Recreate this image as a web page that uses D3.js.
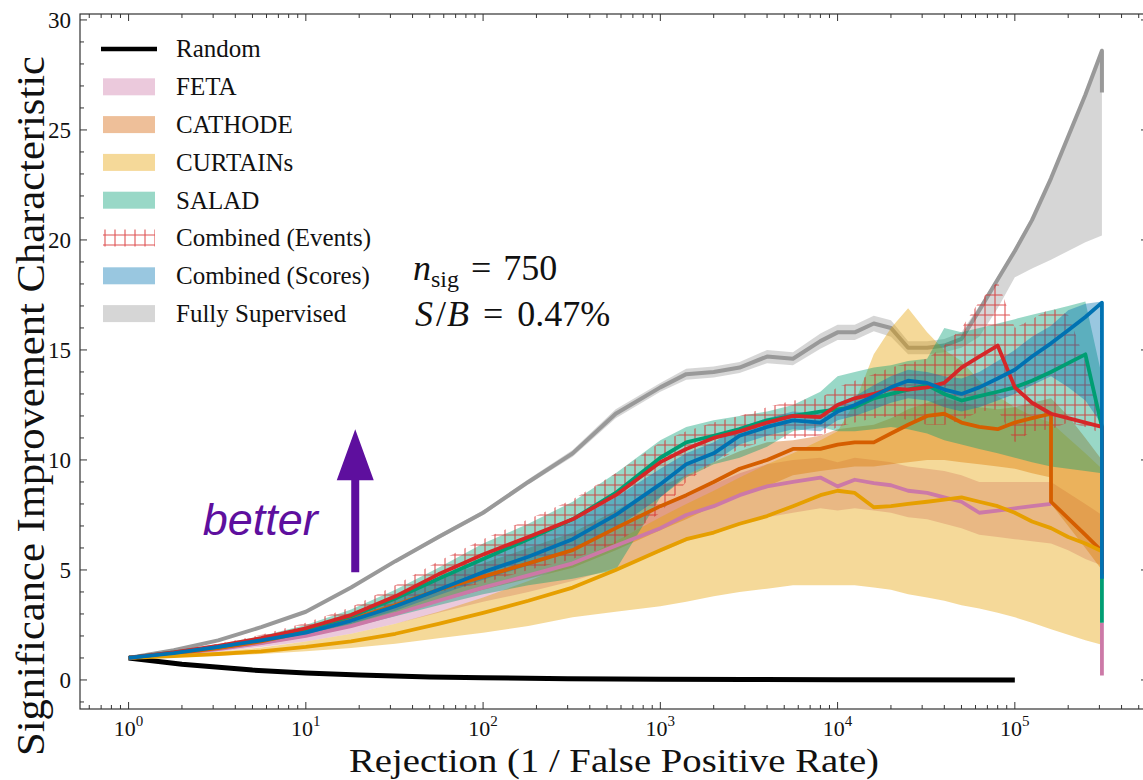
<!DOCTYPE html>
<html>
<head>
<meta charset="utf-8">
<script src="https://cdn.jsdelivr.net/npm/d3@7"></script>
<style>
  html, body { margin: 0; padding: 0; background: #fff; }
  svg { display: block; }
</style>
</head>
<body>
<svg id="chart" width="1143" height="780"></svg>
<script>
// Rejection grid (1 / false positive rate). The last point of a scan repeats
// its rejection value, so a curve can end in a vertical segment.
const rejection = [1, 1.8, 3.2, 5.6, 10, 18, 32, 56, 100, 180, 320, 560, 1000, 1400, 2000, 2800, 4000, 5600, 8000, 10000, 12500, 16000, 20000, 25000, 32000, 40000, 50000, 63000, 80000, 100000, 125000, 160000, 160000, 200000, 250000, 310000, 310000];

// Random classifier
const randomRejection = [1, 2, 5, 10, 20, 50, 100, 300, 1000, 3000, 10000, 100000];
const randomSic = [1.0, 0.71, 0.45, 0.32, 0.22, 0.14, 0.10, 0.058, 0.032, 0.018, 0.01, 0.003];

// FETA (null: no median point at that rejection)
const fetaMid = [1.0, 1.18, 1.4, 1.68, 2.0, 2.45, 3.0, 3.6, 4.2, 4.75, 5.3, 6.1, 6.9, 7.5, 7.9, 8.4, 8.8, 9.0, 9.2, 8.8, 9.1, 8.95, 8.85, 8.6, 8.5, 8.3, 8.1, 7.6, 7.7, 7.8, 7.9, 8.0, 8.0, null, null, 2.6, 0.2];
const fetaLo = [1.0, 1.12, 1.28, 1.5, 1.75, 2.1, 2.55, 3.05, 3.55, 4.0, 4.5, 5.1, 5.8, 6.3, 6.7, 7.1, 7.4, 7.6, 7.8, 7.7, 7.8, 7.7, 7.6, 7.4, 7.3, 7.1, 6.9, 6.6, 6.5, 6.4, 6.3, 6.2, 6.2, 5.9, 5.5, 5.2, 5.2];
const fetaHi = [1.0, 1.24, 1.52, 1.85, 2.2, 2.7, 3.3, 4.0, 4.7, 5.3, 5.9, 6.9, 7.8, 8.4, 8.9, 9.4, 9.8, 10.0, 10.1, 9.9, 10.1, 10.0, 9.9, 9.7, 9.6, 9.5, 9.3, 9.0, 9.0, 9.0, 9.0, 9.0, 9.0, 8.5, 8.0, 7.5, 7.5];

// CATHODE
const cathodeMid = [1.0, 1.2, 1.45, 1.75, 2.2, 2.75, 3.4, 4.1, 4.7, 5.3, 5.9, 6.9, 7.9, 8.4, 9.0, 9.6, 10.0, 10.5, 10.5, 10.7, 10.8, 10.8, 11.2, 11.6, 12.0, 12.1, 11.7, 11.5, 11.4, 11.7, 11.9, 12.1, 8.1, 7.35, 6.6, 5.85, 5.0];
const cathodeLo = [1.0, 1.15, 1.35, 1.6, 1.95, 2.4, 2.95, 3.55, 4.1, 4.6, 5.1, 5.9, 6.8, 7.3, 7.9, 8.4, 8.8, 9.3, 9.5, 9.6, 9.7, 9.7, 9.8, 9.9, 10.0, 10.0, 9.9, 9.8, 9.7, 9.6, 9.4, 9.2, 8.0, 7.0, 6.0, 5.0, 5.0];
const cathodeHi = [1.0, 1.25, 1.55, 1.9, 2.4, 3.05, 3.8, 4.6, 5.3, 6.0, 6.7, 7.7, 8.8, 9.3, 9.9, 10.4, 10.8, 10.9, 11.1, 11.4, 11.5, 11.6, 11.9, 12.3, 12.6, 12.8, 12.6, 12.4, 12.3, 12.4, 12.6, 12.8, 12.8, 12.0, 11.0, 10.0, 10.0];

// CURTAINs
const curtainsMid = [1.0, 1.08, 1.18, 1.3, 1.5, 1.75, 2.1, 2.55, 3.05, 3.6, 4.2, 5.0, 5.9, 6.4, 6.7, 7.1, 7.45, 7.9, 8.4, 8.6, 8.5, 7.85, 7.9, 8.0, 8.1, 8.2, 8.3, 8.1, 7.9, 7.6, 7.2, 6.9, 6.9, 6.5, 6.2, 5.85, 5.0];
const curtainsLo = [1.0, 1.04, 1.1, 1.18, 1.3, 1.45, 1.65, 1.9, 2.15, 2.45, 2.85, 3.1, 3.35, 3.55, 3.8, 4.0, 4.15, 4.3, 4.3, 4.3, 4.3, 4.2, 4.1, 3.9, 3.75, 3.6, 3.4, 3.25, 3.05, 2.85, 2.6, 2.3, 2.3, 2.05, 1.8, 1.6, 1.6];
const curtainsHi = [1.0, 1.12, 1.28, 1.48, 1.75, 2.1, 2.55, 3.1, 3.75, 4.5, 5.3, 6.3, 7.4, 8.0, 8.6, 9.2, 9.8, 10.3, 10.9, 11.3, 12.6, 14.8, 16.0, 16.9, 15.8, 15.0, 14.5, 13.6, 12.9, 12.4, 12.0, 11.7, 11.7, 11.0, 10.3, 9.6, 9.6];

// SALAD
const saladMid = [1.0, 1.25, 1.5, 1.85, 2.3, 2.9, 3.7, 4.6, 5.5, 6.4, 7.3, 8.5, 10.1, 10.8, 11.1, 11.4, 11.8, 12.0, 12.2, 12.3, 12.4, 12.8, 13.0, 13.2, 13.4, 13.0, 12.7, 12.9, 13.1, 13.3, 13.6, 14.0, 14.0, 14.4, 14.8, 11.5, 2.6];
const saladLo = [1.0, 1.18, 1.4, 1.65, 1.95, 2.4, 2.9, 3.4, 3.9, 4.3, 4.6, 5.0, 8.3, 9.2, 9.8, 10.1, 10.6, 11.3, 11.5, 11.3, 11.3, 11.4, 11.5, 11.4, 11.2, 10.9, 10.7, 10.5, 10.3, 10.1, 9.9, 9.7, 9.7, 9.6, 9.5, 9.4, 9.4];
const saladHi = [1.0, 1.3, 1.62, 2.0, 2.5, 3.2, 4.1, 5.1, 6.2, 7.1, 8.1, 9.4, 10.9, 11.5, 11.8, 12.0, 12.2, 12.5, 13.1, 13.8, 14.0, 14.2, 14.3, 14.5, 14.6, 16.0, 15.8, 16.0, 16.2, 16.4, 16.6, 16.8, 16.8, 17.0, 17.2, 13.8, 13.8];

// Combined (Events)
const eventsMid = [1.0, 1.25, 1.55, 1.9, 2.35, 2.95, 3.8, 4.8, 5.7, 6.5, 7.3, 8.4, 9.9, 10.5, 11.0, 11.3, 11.7, 12.0, 11.95, 12.5, 12.8, 13.0, 13.25, 13.2, 13.3, 13.5, 14.2, 14.7, 15.2, 13.3, 12.6, 12.1, 12.1, 11.9, 11.7, 11.5, 4.8];
const eventsLo = [1.0, 1.2, 1.45, 1.75, 2.1, 2.6, 3.3, 4.0, 4.4, 5.0, 5.5, 6.2, 7.6, 9.0, 9.9, 10.5, 10.9, 11.0, 11.1, 11.5, 11.7, 11.9, 12.0, 11.8, 11.6, 11.6, 11.8, 12.2, 12.3, 10.8, 11.3, 11.4, 11.4, 11.7, 11.5, 11.2, 11.2];
const eventsHi = [1.0, 1.3, 1.65, 2.05, 2.6, 3.3, 4.3, 5.4, 6.4, 7.3, 8.2, 9.4, 10.8, 11.3, 11.7, 12.0, 12.4, 12.7, 12.8, 13.3, 13.6, 13.9, 14.2, 14.4, 14.6, 15.2, 16.0, 17.2, 18.1, 16.0, 16.4, 16.9, 16.9, 16.6, 14.5, 12.0, 12.0];

// Combined (Scores)
const scoresMid = [1.0, 1.22, 1.5, 1.8, 2.15, 2.7, 3.35, 4.1, 4.9, 5.6, 6.4, 7.5, 8.9, 9.8, 10.3, 11.1, 11.5, 11.8, 11.7, 12.2, 12.5, 12.9, 13.3, 13.6, 13.5, 13.2, 13.0, 13.3, 13.7, 14.1, 14.7, 15.3, 15.3, 15.9, 16.5, 17.15, 4.6];
const scoresLo = [1.0, 1.19, 1.45, 1.73, 2.05, 2.55, 3.15, 3.85, 4.55, 5.2, 5.9, 6.9, 8.3, 9.3, 9.9, 10.7, 11.1, 11.4, 11.3, 11.8, 12.0, 12.3, 12.6, 12.8, 12.7, 12.4, 12.2, 12.4, 12.7, 13.0, 13.4, 13.8, 13.8, 13.3, 12.7, 11.6, 11.6];
const scoresHi = [1.0, 1.26, 1.58, 1.92, 2.33, 2.95, 3.7, 4.55, 5.45, 6.3, 7.2, 8.3, 9.6, 10.3, 10.8, 11.5, 11.9, 12.2, 12.1, 12.6, 12.9, 13.4, 13.8, 14.1, 14.0, 13.8, 13.7, 14.0, 14.5, 15.0, 15.6, 16.1, 16.1, 16.8, 17.1, 17.2, 17.2];

// Fully supervised
const supervisedMid = [1.0, 1.35, 1.8, 2.4, 3.1, 4.2, 5.4, 6.5, 7.6, 9.0, 10.3, 12.1, 13.3, 13.9, 14.0, 14.2, 14.7, 14.6, 15.4, 15.8, 15.8, 16.2, 16.0, 15.1, 15.1, 15.2, 15.5, 16.8, 18.2, 19.5, 20.9, 22.8, 22.8, 24.7, 26.6, 28.6, 26.7];
const supervisedLo = [1.0, 1.33, 1.77, 2.36, 3.05, 4.13, 5.32, 6.4, 7.5, 8.88, 10.15, 11.9, 13.1, 13.65, 13.75, 13.95, 14.4, 14.3, 15.05, 15.45, 15.45, 15.85, 15.6, 14.8, 14.8, 14.9, 15.1, 15.6, 16.9, 18.3, 18.7, 19.1, 19.1, 19.5, 19.9, 20.2, 20.2];
const supervisedHi = [1.0, 1.37, 1.83, 2.44, 3.15, 4.27, 5.48, 6.6, 7.7, 9.12, 10.45, 12.3, 13.5, 14.15, 14.25, 14.45, 15.0, 14.9, 15.75, 16.15, 16.15, 16.55, 16.35, 15.4, 15.4, 15.5, 15.8, 17.0, 18.35, 19.65, 21.05, 22.95, 22.95, 24.85, 26.75, 28.7, 28.7];

// Axis ticks
const xMajorTicks = [1, 10, 100, 1000, 10000, 100000];
const xTickExponents = ["0", "1", "2", "3", "4", "5"];
const yMajorTicks = [0, 5, 10, 15, 20, 25, 30];

const supervised = { name: "Fully Supervised", color: "#999999", mid: supervisedMid, lo: supervisedLo, hi: supervisedHi };
const methods = [
  { name: "FETA", color: "#CC79A7", mid: fetaMid, lo: fetaLo, hi: fetaHi },
  { name: "CATHODE", color: "#D55E00", mid: cathodeMid, lo: cathodeLo, hi: cathodeHi },
  { name: "CURTAINs", color: "#E69F00", mid: curtainsMid, lo: curtainsLo, hi: curtainsHi },
  { name: "SALAD", color: "#009E73", mid: saladMid, lo: saladLo, hi: saladHi },
  { name: "Combined (Events)", color: "#D62728", mid: eventsMid, lo: eventsLo, hi: eventsHi, hatch: true },
  { name: "Combined (Scores)", color: "#0072B2", mid: scoresMid, lo: scoresLo, hi: scoresHi }
];

const serif = "'Liberation Serif', 'Times New Roman', serif";
const svg = d3.select("#chart");

const x = d3.scaleLog().domain([0.532, 5.64e5]).range([80, 1148]);
const y = d3.scaleLinear().domain([-1.32, 30.27]).range([709, 14]);
const [x0, x1] = x.range();
const [yb, yt] = y.range();

const defs = svg.append("defs");
defs.append("clipPath").attr("id", "plotClip")
  .append("rect").attr("x", x0).attr("y", yt).attr("width", x1 - x0).attr("height", yb - yt);

const hatch = defs.append("pattern").attr("id", "hatchPlus")
  .attr("patternUnits", "userSpaceOnUse").attr("width", 10).attr("height", 10);
hatch.append("path").attr("d", "M5,0V10M0,5H10")
  .attr("stroke", "#D62728").attr("stroke-width", 1.1).attr("stroke-opacity", 0.8).attr("fill", "none");

const rows = s => rejection.map((r, i) => ({ r, mid: s.mid[i], lo: s.lo[i], hi: s.hi[i] }));

const area = d3.area().x(d => x(d.r)).y0(d => y(d.lo)).y1(d => y(d.hi));
const line = d3.line().defined(d => d.mid != null).x(d => x(d.r)).y(d => y(d.mid));

const plot = svg.append("g").attr("clip-path", "url(#plotClip)");

function drawBand(s) {
  plot.append("path").datum(rows(s))
    .attr("d", area)
    .attr("fill", s.hatch ? "url(#hatchPlus)" : s.color)
    .attr("fill-opacity", s.hatch ? 1 : 0.4)
    .attr("stroke", "none");
}
function drawLine(s, width) {
  plot.append("path").datum(rows(s))
    .attr("d", line)
    .attr("fill", "none").attr("stroke", s.color)
    .attr("stroke-width", width)
    .attr("stroke-linejoin", "round");
}

// the supervised reference sits underneath the weakly supervised results
drawBand(supervised);
drawLine(supervised, 4);

methods.forEach(drawBand);

plot.append("path")
  .datum(randomRejection.map((r, i) => ({ r, mid: randomSic[i] })))
  .attr("d", line)
  .attr("fill", "none").attr("stroke", "#000").attr("stroke-width", 5);

methods.forEach(s => drawLine(s, 3.8));

// frame
svg.append("rect").attr("x", x0).attr("y", yt).attr("width", x1 - x0).attr("height", yb - yt)
  .attr("fill", "none").attr("stroke", "#333").attr("stroke-width", 1.2);

// ticks pointing inwards on all sides
const tickG = svg.append("g").attr("stroke", "#333").attr("stroke-width", 1);
const majorLen = 7, minorLen = 4;
const [dLo, dHi] = x.domain();
const xMinor = [];
for (let e = -1; e <= 5; e++) for (let m = 2; m <= 9; m++) {
  const v = m * Math.pow(10, e);
  if (v > dLo && v < dHi) xMinor.push(v);
}
xMinor.forEach(v => {
  tickG.append("line").attr("x1", x(v)).attr("x2", x(v)).attr("y1", yb).attr("y2", yb - minorLen);
  tickG.append("line").attr("x1", x(v)).attr("x2", x(v)).attr("y1", yt).attr("y2", yt + minorLen);
});
xMajorTicks.forEach(v => {
  tickG.append("line").attr("x1", x(v)).attr("x2", x(v)).attr("y1", yb).attr("y2", yb - majorLen);
  tickG.append("line").attr("x1", x(v)).attr("x2", x(v)).attr("y1", yt).attr("y2", yt + majorLen);
});
d3.range(-1, 31).forEach(v => {
  const len = v % 5 === 0 ? majorLen : minorLen;
  tickG.append("line").attr("x1", x0).attr("x2", x0 + len).attr("y1", y(v)).attr("y2", y(v));
  tickG.append("line").attr("x1", x1).attr("x2", x1 - len).attr("y1", y(v)).attr("y2", y(v));
});

// tick labels
xMajorTicks.forEach((v, i) => {
  const t = svg.append("text").attr("x", x(v)).attr("y", yb + 27)
    .attr("text-anchor", "middle").attr("font-family", serif).attr("font-size", 22).attr("fill", "#111");
  t.append("tspan").text("10");
  t.append("tspan").attr("font-size", 15).attr("dy", -10).text(xTickExponents[i]);
});
yMajorTicks.forEach(v => {
  svg.append("text").attr("x", x0 - 9).attr("y", y(v) + 7.6)
    .attr("text-anchor", "end").attr("font-family", serif).attr("font-size", 23).attr("fill", "#111")
    .text(v);
});

// axis titles
svg.append("text")
  .attr("x", (x0 + x1) / 2).attr("y", 772)
  .attr("text-anchor", "middle").attr("font-family", serif).attr("font-size", 34).attr("fill", "#111")
  .attr("textLength", 530).attr("lengthAdjust", "spacingAndGlyphs")
  .text("Rejection (1 / False Positive Rate)");
svg.append("text")
  .attr("transform", "translate(44,406) rotate(-90)")
  .attr("text-anchor", "middle").attr("font-family", serif).attr("font-size", 41).attr("fill", "#111")
  .attr("textLength", 700).attr("lengthAdjust", "spacingAndGlyphs")
  .text("Significance Improvement Characteristic");

// legend
const legend = svg.append("g");
const legendItems = [{ name: "Random", random: true }].concat(methods, [supervised]);
legendItems.forEach((s, i) => {
  const cy = 49 + i * 37.8;
  if (s.random) {
    legend.append("line").attr("x1", 101).attr("x2", 157).attr("y1", cy).attr("y2", cy)
      .attr("stroke", "#000").attr("stroke-width", 4.5);
  } else {
    legend.append("rect").attr("x", 103).attr("y", cy - 8.5).attr("width", 52).attr("height", 17)
      .attr("fill", s.hatch ? "url(#hatchPlus)" : s.color)
      .attr("fill-opacity", s.hatch ? 1 : 0.4);
  }
  legend.append("text").attr("x", 176).attr("y", cy + 8.3)
    .attr("font-family", serif).attr("font-size", 25).attr("fill", "#111").text(s.name);
});

// signal injection annotation
const ann1 = svg.append("text").attr("x", 413).attr("y", 280)
  .attr("font-family", serif).attr("font-size", 36).attr("fill", "#111");
ann1.append("tspan").attr("font-style", "italic").text("n");
ann1.append("tspan").attr("font-size", 24).attr("dy", 7).text("sig");
ann1.append("tspan").attr("dy", -7).attr("dx", 12).text("=");
ann1.append("tspan").attr("dx", 12).text("750");

const ann2 = svg.append("text").attr("x", 415).attr("y", 326)
  .attr("font-family", serif).attr("font-size", 36).attr("fill", "#111");
ann2.append("tspan").attr("font-style", "italic").text("S");
ann2.append("tspan").attr("dx", 3).text("/");
ann2.append("tspan").attr("font-style", "italic").attr("dx", 1).text("B");
ann2.append("tspan").attr("dx", 14).text("=");
ann2.append("tspan").attr("dx", 14).text("0.47%");

// "better" arrow
const purple = "#5E0F9E";
const arrowX = x(19), arrowBase = y(4.9), arrowTip = y(11.4);
const headLen = 51, headHalf = 18.5, shaftHalf = 4;
svg.append("path")
  .attr("d", `M${arrowX - shaftHalf},${arrowBase} L${arrowX - shaftHalf},${arrowTip + headLen} L${arrowX - headHalf},${arrowTip + headLen} L${arrowX},${arrowTip} L${arrowX + headHalf},${arrowTip + headLen} L${arrowX + shaftHalf},${arrowTip + headLen} L${arrowX + shaftHalf},${arrowBase} Z`)
  .attr("fill", purple);
svg.append("text").attr("x", x(2.62)).attr("y", y(6.6))
  .attr("font-family", "'Liberation Sans', Arial, sans-serif").attr("font-style", "italic")
  .attr("font-size", 45).attr("fill", purple).text("better");
</script>
</body>
</html>
